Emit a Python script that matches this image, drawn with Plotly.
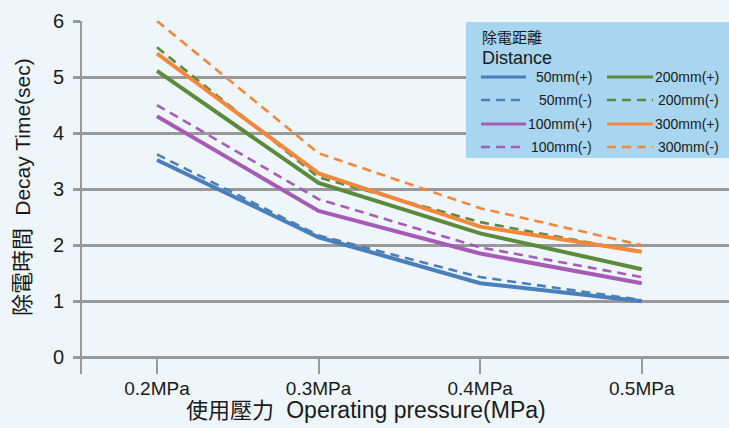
import plotly.graph_objects as go

categories = ["0.2MPa", "0.3MPa", "0.4MPa", "0.5MPa"]

d50_plus = [3.52, 2.14, 1.32, 1.00]
d50_minus = [3.62, 2.17, 1.43, 1.02]
d100_plus = [4.30, 2.61, 1.85, 1.32]
d100_minus = [4.50, 2.82, 1.96, 1.43]
d200_plus = [5.11, 3.11, 2.21, 1.57]
d200_minus = [5.53, 3.21, 2.41, 1.87]
d300_plus = [5.42, 3.28, 2.33, 1.88]
d300_minus = [6.00, 3.64, 2.66, 2.00]

legend_names = ["50mm(+)", "50mm(-)", "100mm(+)", "100mm(-)",
                "200mm(+)", "200mm(-)", "300mm(+)", "300mm(-)"]
legend_title_zh = "除電距離"
legend_title_en = "Distance"
x_title_zh, x_title_en = "使用壓力", "Operating pressure(MPa)"
y_title_zh, y_title_en = "除電時間", "Decay Time(sec)"

BLUE, PURPLE, GREEN, ORANGE = "#4a7fba", "#a65cb5", "#5b8a3c", "#f5873a"
DASH = "9px,6px"

series = [
    (d50_plus, BLUE, "solid"),
    (d50_minus, BLUE, DASH),
    (d100_plus, PURPLE, "solid"),
    (d100_minus, PURPLE, DASH),
    (d200_plus, GREEN, "solid"),
    (d200_minus, GREEN, DASH),
    (d300_plus, ORANGE, "solid"),
    (d300_minus, ORANGE, DASH),
]

W, H = 729, 428
ML, MR, MT, MB = 82, 0, 21, 54
PW, PH = W - ML - MR, H - MT - MB


def px(x):
    return (x - ML) / PW


def py(y):
    return (H - MB - y) / PH


fig = go.Figure()
for (vals, color, dash), name in zip(series, legend_names):
    fig.add_trace(go.Scatter(
        x=categories, y=vals, mode="lines", name=name,
        line=dict(color=color, width=4 if dash == "solid" else 2.6, dash=dash),
        showlegend=False,
    ))

font_family = "Liberation Sans, Arial, Noto Sans CJK TC, sans-serif"

x_title = f"{x_title_zh}  <span style='font-size:23px'>{x_title_en}</span>"
y_title = f"{y_title_zh}  <span style='font-size:21px'>{y_title_en}</span>"

shapes = [
    dict(type="rect", xref="paper", yref="paper",
         x0=px(466), x1=px(729), y0=py(158), y1=py(22),
         fillcolor="#a8d6f0", line=dict(width=0), layer="above"),
]
annotations = [
    dict(text=x_title, x=px(366), y=py(410), xref="paper", yref="paper",
         showarrow=False, font=dict(size=22), xanchor="center", yanchor="middle"),
    dict(text=y_title, x=px(22), y=py(187), textangle=-90, xref="paper", yref="paper",
         showarrow=False, font=dict(size=22), xanchor="center", yanchor="middle"),
    dict(text=legend_title_zh, x=px(480), y=py(38), xref="paper", yref="paper",
         showarrow=False, font=dict(size=15), xanchor="left", yanchor="middle"),
    dict(text=legend_title_en, x=px(480), y=py(58), xref="paper", yref="paper",
         showarrow=False, font=dict(size=18), xanchor="left", yanchor="middle"),
]

row_y = [77, 100, 124, 147]
cols = [(481, 526, 594), (607, 653, 721)]
for i, ((vals, color, dash), name) in enumerate(zip(series, legend_names)):
    col = 0 if i < 4 else 1
    row = i % 4
    x0, x1, xt = cols[col]
    yy = row_y[row]
    shapes.append(dict(type="line", xref="paper", yref="paper",
                       x0=px(x0), x1=px(x1), y0=py(yy), y1=py(yy),
                       line=dict(color=color, width=3 if dash == "solid" else 2.5,
                                 dash=dash), layer="above"))
    annotations.append(dict(text=name, x=px(xt), y=py(yy), xref="paper", yref="paper",
                            showarrow=False, font=dict(size=14),
                            xanchor="right", yanchor="middle"))

fig.update_layout(
    width=W, height=H,
    margin=dict(l=ML, r=MR, t=MT, b=MB, autoexpand=False),
    paper_bgcolor="#eef6fc",
    plot_bgcolor="#eef6fc",
    font=dict(family=font_family, size=17, color="#1a1a1a"),
    showlegend=False,
    xaxis=dict(
        type="category",
        range=[-0.464, 3.54],
        automargin=False,
        showgrid=False,
        showline=False,
        zeroline=False,
        ticks="inside",
        ticklen=15,
        tickwidth=2,
        tickcolor="#999999",
        tickfont=dict(size=19),
        ticklabelstandoff=1,
    ),
    yaxis=dict(
        range=[-0.3, 6],
        tickvals=[0, 1, 2, 3, 4, 5, 6],
        automargin=False,
        showgrid=True,
        gridcolor="#999999",
        gridwidth=2.5,
        zeroline=False,
        showline=True,
        linecolor="#999999",
        linewidth=2,
        ticks="outside",
        ticklen=7,
        tickwidth=2.5,
        tickcolor="#999999",
        tickfont=dict(size=20),
        ticklabelstandoff=5,
    ),
    shapes=shapes,
    annotations=annotations,
)

fig.write_html(
    "out.html",
    config={"displayModeBar": False},
    post_script="document.body.style.margin='0';document.body.style.overflow='hidden';",
)
